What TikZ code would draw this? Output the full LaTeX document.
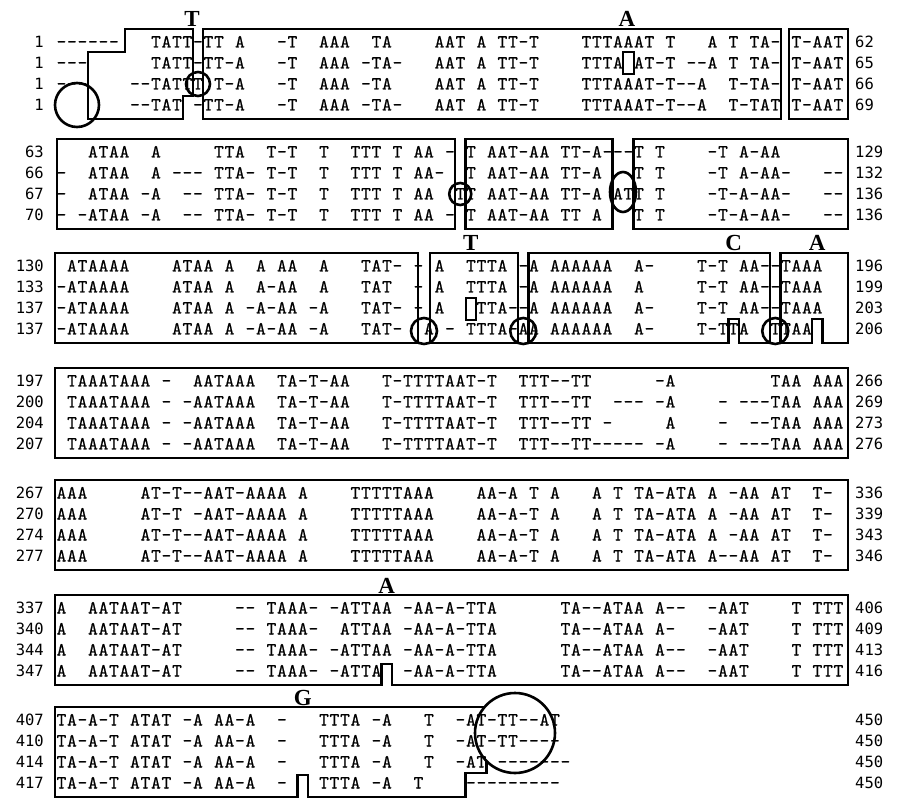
\documentclass[tikz,border=0pt]{standalone}
\usepackage{fontspec}
\newfontfamily\numfont{DejaVu Sans Mono}
\newfontfamily\labfont{Liberation Serif}
\newfontfamily\seqfont{lmmono10-regular.otf}[FakeBold=0.7]
\newcommand\sqc[1]{\makebox[10.5pt][c]{#1}}
\def\sqloop#1{\ifx#1\relax\else\ifx#1.\sqc{}\else\sqc{#1}\fi\expandafter\sqloop\fi}
\newcommand\sq[1]{\sqloop#1\relax}
\tikzset{
  seq/.style={font=\seqfont\fontsize{18.5}{18.5}\selectfont, inner sep=0pt, anchor=base west},
  num/.style={font=\numfont\fontsize{15.5}{15.5}\selectfont, inner sep=0pt},
  lnum/.style={num, anchor=base east},
  rnum/.style={num, anchor=base west},
  lab/.style={font=\labfont\bfseries\fontsize{23}{23}\selectfont, inner sep=0pt, anchor=base},
  box/.style={draw, line width=2.2pt, line join=miter},
  ring/.style={draw, line width=2.6pt},
}
\newcommand\seqrow[5]{%
  \node[lnum] (#1l) at (44,#2+5.5) {#3};
  \node[seq] (#1) at (56,#2+5.5) {\sq{#4}};
  \node[rnum] (#1r) at (855,#2+5.5) {#5};
}
\begin{document}
\begin{tikzpicture}[x=1pt,y=-1pt]
\useasboundingbox[fill=white] (0,0) rectangle (897,799);
% ---------------- block 1
\seqrow{a1}{42}{1}{------...TATT-TT.A...-T..AAA..TA....AAT.A.TT-T....TTTAAAT.T...A.T.TA-.T-AAT}{62}
\seqrow{a2}{63}{1}{---......TATT-TT-A...-T..AAA.-TA-...AAT.A.TT-T....TTTA.AT-T.--A.T.TA-.T-AAT}{65}
\seqrow{a3}{84}{1}{---....--TATTT.T-A...-T..AAA.-TA....AAT.A.TT-T....TTTAAAT-T--A..T-TA-.T-AAT}{66}
\seqrow{a4}{105}{1}{.......--TAT.-TT-A...-T..AAA.-TA-...AAT.A.TT-T....TTTAAAT-T--A..T-TAT.T-AAT}{69}
\draw[box] (125,29) -- (193,29) -- (193,96) -- (183,96) -- (183,119) -- (88,119) -- (88,52) -- (125,52) -- cycle;
\draw[box] (203,29) rectangle (781,119);
\draw[box] (789,29) rectangle (848,119);
\draw[box, line width=2pt] (623,52) rectangle (633.5,74);
\node[lab] (la1) at (192,27) {T};
\node[lab] (la2) at (627,27) {A};
\draw[ring] (77,105) circle (22);
\draw[ring] (198,84) circle (12);
% ---------------- block 2
\seqrow{b1}{152}{63}{...ATAA..A.....TTA..T-T..T..TTT.T.AA.-.T.AAT-AA.TT-A---T.T....-T.A-AA}{129}
\seqrow{b2}{173}{66}{-..ATAA..A.---.TTA-.T-T..T..TTT.T.AA-..T.AAT-AA.TT-A...T.T....-T.A-AA-...--}{132}
\seqrow{b3}{194}{67}{-..ATAA.-A..--.TTA-.T-T..T..TTT.T.AA..TT.AAT-AA.TT-A.ATT.T....-T-A-AA-...--}{136}
\seqrow{b4}{215}{70}{-.-ATAA.-A..--.TTA-.T-T..T..TTT.T.AA.-.T.AAT-AA.TT.A...T.T....-T-A-AA-...--}{136}
\draw[box] (57,139) rectangle (455,229);
\draw[box] (465.5,139) rectangle (612.5,229);
\draw[box] (633.5,139) rectangle (848,229);
\draw[ring] (460.25,194) circle (11);
\draw[ring] (623,192) ellipse (13 and 20);
% ---------------- block 3
\seqrow{c1}{266}{130}{.ATAAAA....ATAA.A..A.AA..A...TAT-.-.A..TTTA.-A.AAAAAA..A-....T-T.AA--TAAA}{196}
\seqrow{c2}{287}{133}{-ATAAAA....ATAA.A..A-AA..A...TAT..-.A..TTTA.-A.AAAAAA..A.....T-T.AA--TAAA}{199}
\seqrow{c3}{308}{137}{-ATAAAA....ATAA.A.-A-AA.-A...TAT-.-.A...TTA--A.AAAAAA..A-....T-T.AA--TAAA}{203}
\seqrow{c4}{329}{137}{-ATAAAA....ATAA.A.-A-AA.-A...TAT-..A.-.TTTA-AA.AAAAAA..A-....T-TTA..TTAA}{206}
\draw[box] (55,253) rectangle (418,343);
\draw[box] (430,253) rectangle (518,343);
\draw[box] (528.5,253) -- (770,253) -- (770,343) -- (739,343) -- (739,319) -- (728.5,319) -- (728.5,343) -- (528.5,343) -- cycle;
\draw[box] (780.5,253) -- (848,253) -- (848,343) -- (822.5,343) -- (822.5,319) -- (812,319) -- (812,343) -- (780.5,343) -- cycle;
\draw[box, line width=2pt] (465.5,298) rectangle (476,320);
\node[lab] (lc1) at (470.75,251) {T};
\node[lab] (lc2) at (733.75,251) {C};
\node[lab] (lc3) at (817.25,251) {A};
\draw[ring] (424,331) circle (13);
\draw[ring] (523.25,331) circle (13);
\draw[ring] (775.25,331) circle (13);
% ---------------- block 4
\seqrow{d1}{381}{197}{.TAAATAAA.-..AATAAA..TA-T-AA...T-TTTTAAT-T..TTT--TT......-A.........TAA.AAA}{266}
\seqrow{d2}{402}{200}{.TAAATAAA.-.-AATAAA..TA-T-AA...T-TTTTAAT-T..TTT--TT..---.-A....-.---TAA.AAA}{269}
\seqrow{d3}{423}{204}{.TAAATAAA.-.-AATAAA..TA-T-AA...T-TTTTAAT-T..TTT--TT.-.....A....-..--TAA.AAA}{273}
\seqrow{d4}{444}{207}{.TAAATAAA.-.-AATAAA..TA-T-AA...T-TTTTAAT-T..TTT--TT-----.-A....-.---TAA.AAA}{276}
\draw[box] (55,368) rectangle (848,458);
% ---------------- block 5
\seqrow{e1}{493}{267}{AAA.....AT-T--AAT-AAAA.A....TTTTTAAA....AA-A.T.A...A.T.TA-ATA.A.-AA.AT..T-}{336}
\seqrow{e2}{514}{270}{AAA.....AT-T.-AAT-AAAA.A....TTTTTAAA....AA-A-T.A...A.T.TA-ATA.A.-AA.AT..T-}{339}
\seqrow{e3}{535}{274}{AAA.....AT-T--AAT-AAAA.A....TTTTTAAA....AA-A-T.A...A.T.TA-ATA.A.-AA.AT..T-}{343}
\seqrow{e4}{556}{277}{AAA.....AT-T--AAT-AAAA.A....TTTTTAAA....AA-A-T.A...A.T.TA-ATA.A--AA.AT..T-}{346}
\draw[box] (55,480) rectangle (848,570);
% ---------------- block 6
\seqrow{f1}{608}{337}{A..AATAAT-AT.....--.TAAA-.-ATTAA.-AA-A-TTA......TA--ATAA.A--..-AAT....T.TTT}{406}
\seqrow{f2}{629}{340}{A..AATAAT-AT.....--.TAAA-..ATTAA.-AA-A-TTA......TA--ATAA.A-...-AAT....T.TTT}{409}
\seqrow{f3}{650}{344}{A..AATAAT-AT.....--.TAAA-.-ATTAA.-AA-A-TTA......TA--ATAA.A--..-AAT....T.TTT}{413}
\seqrow{f4}{671}{347}{A..AATAAT-AT.....--.TAAA-.-ATTA..-AA-A-TTA......TA--ATAA.A--..-AAT....T.TTT}{416}
\draw[box] (55,595) -- (848,595) -- (848,685) -- (392,685) -- (392,664) -- (381.5,664) -- (381.5,685) -- (55,685) -- cycle;
\node[lab] (lf1) at (386.75,593) {A};
% ---------------- block 7
\seqrow{g1}{720}{407}{TA-A-T.ATAT.-A.AA-A..-...TTTA.-A...T..-AT-TT--AT}{450}
\seqrow{g2}{741}{410}{TA-A-T.ATAT.-A.AA-A..-...TTTA.-A...T..-AT-TT----}{450}
\seqrow{g3}{762}{414}{TA-A-T.ATAT.-A.AA-A..-...TTTA.-A...T..-AT.-------}{450}
\seqrow{g4}{783}{417}{TA-A-T.ATAT.-A.AA-A..-...TTTA.-A..T....---------}{450}
\draw[box] (485,707) -- (55,707) -- (55,797) -- (297.5,797) -- (297.5,775) -- (308,775) -- (308,797) -- (465.5,797) -- (465.5,773) -- (486.5,773) -- (486.5,761);
\node[lab] (lg1) at (302.75,705) {G};
\draw[ring] (515,733) circle (40);
\end{tikzpicture}
\end{document}
